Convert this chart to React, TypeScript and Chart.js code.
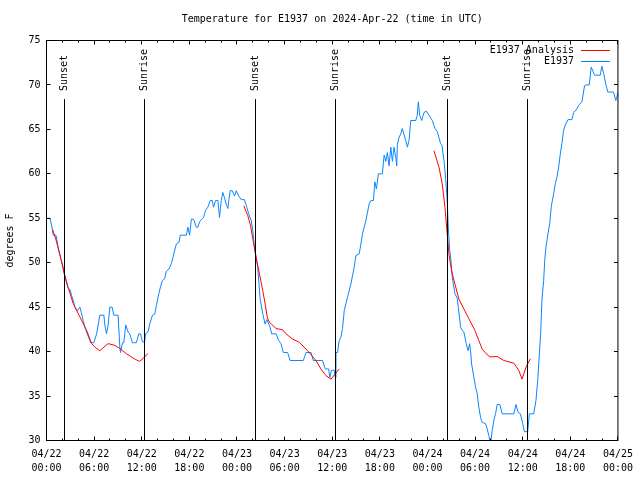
import React, { useEffect, useRef } from 'react';
import { Chart, registerables } from 'chart.js';

Chart.register(...registerables);

// hours since 2024-04-22 00:00 UTC, temperature in degrees F
const observed: [number, number][] = [
  [0, 55], [0.44, 55], [0.65, 54.2], [0.85, 53.1], [1.19, 53.1], [1.36, 52.3], [1.48, 51.6], [1.78, 50.5],
  [2.04, 49.7], [2.2, 48.9], [2.45, 48], [2.74, 47.1], [2.95, 47], [3.17, 46.3], [3.37, 45.75], [3.58, 45],
  [3.87, 44.6], [4.21, 45], [4.42, 44.3], [4.62, 43.5], [4.84, 42.75], [5.13, 42], [5.47, 41.25], [5.55, 41],
  [5.97, 41], [6.31, 42], [6.51, 43], [6.72, 44.1], [7.23, 44.1], [7.35, 43], [7.56, 42], [7.77, 43],
  [7.98, 45], [8.27, 45], [8.48, 44.1], [9.02, 44.1], [9.24, 40.5], [9.32, 39.9], [9.58, 41], [9.74, 41],
  [9.99, 43], [10.28, 42.2], [10.49, 42], [10.83, 41], [11.33, 41], [11.62, 42], [11.84, 42], [12.09, 41.1],
  [12.38, 41.1], [12.47, 42], [12.79, 42.2], [13.0, 43.1], [13.35, 44.1], [13.63, 44.2], [13.85, 45.2],
  [14.05, 46.1], [14.35, 47.25], [14.6, 48], [14.89, 48.2], [15.1, 49.05], [15.43, 49.3], [15.73, 49.9],
  [15.93, 50.6], [16.15, 51.4], [16.36, 52.1], [16.69, 52.3], [16.86, 53.1], [17.62, 53.1], [17.82, 54],
  [18.03, 53.1], [18.25, 54.9], [18.53, 54.9], [18.87, 54], [19.08, 54], [19.29, 54.6], [19.79, 55.1],
  [20.04, 55.9], [20.33, 56.25], [20.63, 57], [20.88, 57], [21.05, 56.25], [21.3, 57], [21.59, 57],
  [21.8, 55.1], [22.02, 57], [22.22, 57.9], [22.43, 57.3], [22.64, 56.6], [22.85, 56.1], [22.97, 57],
  [23.15, 58.1], [23.4, 58.1], [23.69, 57.5], [23.9, 58.1], [24.23, 57.5], [24.53, 57.1], [24.94, 57.1],
  [25.23, 56.25], [25.48, 55.5], [25.79, 54.75], [25.99, 53.6], [26.2, 51.75], [26.41, 50.6], [26.61, 49.5],
  [26.92, 45.9], [27.24, 44.3], [27.54, 43.1], [27.75, 43.6], [28.0, 43.1], [28.17, 42.75], [28.37, 42],
  [28.93, 42], [29.25, 41.25], [29.55, 40.9], [29.84, 39.9], [30.38, 39.9], [30.69, 39], [32.36, 39],
  [32.7, 39.9], [33.33, 39.9], [33.61, 39], [34.78, 39], [35.12, 38.05], [35.54, 38.05], [35.71, 37.1],
  [35.91, 37.9], [36.25, 37.9], [36.38, 37.1], [36.47, 39.9], [36.67, 39.9], [36.88, 41.25], [37.09, 41.6],
  [37.3, 42.6], [37.51, 44.6], [37.92, 46.1], [38.35, 47.6], [38.77, 49.5], [38.98, 50.8], [39.4, 51],
  [39.61, 52.1], [39.81, 53.25], [40.24, 54.75], [40.65, 56.6], [40.87, 57], [41.19, 57], [41.37, 59.1],
  [41.57, 58.3], [41.82, 60], [42.32, 60], [42.54, 62.1], [42.75, 61.4], [42.95, 62.4], [43.16, 60.9],
  [43.38, 63], [43.58, 61.4], [43.79, 63], [44.01, 61.8], [44.13, 60.9], [44.21, 63.3], [44.42, 64.1],
  [44.64, 64.5], [44.83, 65.1], [45.05, 64.4], [45.26, 63.75], [45.47, 63], [45.68, 63.75], [45.89, 66],
  [46.52, 66], [46.72, 66.6], [46.85, 68.1], [47.02, 66.6], [47.27, 66], [47.56, 66.9], [47.85, 67.05],
  [48.19, 66.6], [48.61, 66], [48.95, 65.1], [49.24, 64.75], [49.66, 63.4], [49.83, 63.2], [50.08, 61.5],
  [50.29, 59.5], [50.49, 57], [50.62, 54], [50.79, 51.5], [50.92, 50.6], [51.12, 48.4], [51.46, 46.5],
  [51.75, 46], [51.96, 44.4], [52.18, 42.75], [52.38, 42.4], [52.59, 42.2], [52.88, 40.9], [53.13, 40.1],
  [53.31, 40.9], [53.43, 40.1], [53.56, 38.6], [53.85, 37.1], [54.06, 36], [54.26, 35.3], [54.47, 33.75],
  [54.69, 32.6], [54.89, 32.05], [55.32, 31.9], [55.52, 31.3], [55.74, 30.55], [55.95, 29.5], [56.15, 31.1],
  [56.36, 32.25], [56.58, 33], [56.78, 34.05], [57.12, 34.05], [57.41, 33], [58.88, 33], [59.16, 34.05],
  [59.41, 33.2], [59.71, 33], [60.0, 31.9], [60.21, 31], [60.63, 31], [60.84, 33], [61.38, 33], [61.67, 34.5],
  [61.92, 37.1], [62.1, 39.75], [62.26, 42], [62.43, 45.9], [62.64, 48], [62.77, 50.25], [62.93, 51.75],
  [63.18, 53.25], [63.4, 54.4], [63.61, 56.4], [63.9, 57.75], [64.11, 58.9], [64.31, 59.6], [64.53, 60.75],
  [64.74, 62.25], [64.94, 63.4], [65.15, 64.9], [65.37, 65.5], [65.7, 66.1], [66.2, 66.1], [66.41, 66.9],
  [66.83, 67.3], [67.04, 67.7], [67.46, 68.1], [67.79, 69.9], [67.88, 70], [68.38, 70], [68.64, 72],
  [69.05, 71.1], [69.77, 71.1], [69.97, 72.1], [70.19, 71.3], [70.47, 70.1], [70.72, 69.2], [71.44, 69.2],
  [71.73, 68.25], [71.85, 68.6], [72, 69.2],
];

const analysisNight1: [number, number][] = [
  [0.78, 53.7], [1.19, 52.6], [1.7, 50.9], [2.2, 48.9], [2.7, 47.3], [3.37, 45.4], [4.21, 43.9], [5.05, 42.4],
  [5.68, 40.9], [6.09, 40.5], [6.72, 40.1], [7.23, 40.5], [7.77, 40.9], [8.61, 40.7], [9.24, 40.35],
  [10.08, 39.75], [10.71, 39.4], [11.25, 39.1], [11.75, 38.9], [12.25, 39.3], [12.79, 39.8],
];
const analysisNight2: [number, number][] = [
  [24.86, 56.4], [25.36, 55.3], [25.7, 54.2], [25.99, 52.7], [26.41, 50.6], [26.83, 48.75], [27.24, 46.9],
  [27.58, 45.2], [27.83, 43.8], [28.08, 43.3], [28.93, 42.6], [29.76, 42.45], [30.18, 42.0], [31.01, 41.4],
  [31.86, 41.05], [32.9, 40.1], [33.95, 39.0], [34.58, 38.05], [35.21, 37.3], [35.84, 36.9], [36.38, 37.5],
  [36.88, 38.05],
];
const analysisNight3: [number, number][] = [
  [48.82, 62.6], [49.45, 60.75], [49.86, 58.9], [50.2, 56.25], [50.49, 53.25], [50.7, 51], [51.04, 49.1],
  [51.46, 47.6], [51.96, 45.9], [52.59, 44.8], [53.22, 43.7], [53.97, 42.4], [54.47, 41.25], [54.89, 40.3],
  [55.36, 39.8], [55.86, 39.4], [56.78, 39.45], [57.62, 39.0], [58.88, 38.7], [59.5, 37.9], [59.92, 36.9],
  [60.42, 38.25], [60.97, 39.2],
];

const eventHours = [2.24, 12.4, 26.36, 36.38, 50.49, 60.55];
const eventLabels = ['Sunset', 'Sunrise', 'Sunset', 'Sunrise', 'Sunset', 'Sunrise'];

const xDateLabels = ['04/22', '04/22', '04/22', '04/22', '04/23', '04/23', '04/23', '04/23', '04/24', '04/24', '04/24', '04/24', '04/25'];
const xTimeLabels = ['00:00', '06:00', '12:00', '18:00', '00:00', '06:00', '12:00', '18:00', '00:00', '06:00', '12:00', '18:00', '00:00'];

const titleText = 'Temperature for E1937 on 2024-Apr-22 (time in UTC)';
const yTitle = 'degrees F';
const seriesNames = ['E1937 Analysis', 'E1937'];

const RED = '#ff0000';
const BLUE = '#0a86ff';
const FAMILY = '"DejaVu Sans Mono", monospace';
const FONT = `10px ${FAMILY}`;

const toPoints = (arr: [number, number][]) => arr.map(([x, y]) => ({ x, y }));

const overlay = {
  id: 'overlay',
  afterDatasetsDraw(chart: any) {
    const { ctx, chartArea: a, scales } = chart;
    const x = scales.x;
    const y = scales.y;
    ctx.save();
    ctx.strokeStyle = '#000';
    ctx.fillStyle = '#000';
    ctx.lineWidth = 1;
    ctx.font = FONT;

    // sunrise / sunset markers
    eventHours.forEach((h, i) => {
      const px = Math.floor(x.getPixelForValue(h)) + 0.5;
      ctx.beginPath();
      ctx.moveTo(px, a.top + 58.5);
      ctx.lineTo(px, a.bottom);
      ctx.stroke();
      ctx.save();
      ctx.translate(px, a.top + 50.5);
      ctx.rotate(-Math.PI / 2);
      ctx.textAlign = 'left';
      ctx.textBaseline = 'middle';
      ctx.fillText(eventLabels[i], 0, 0);
      ctx.restore();
    });

    // frame
    ctx.strokeRect(a.left, a.top, a.right - a.left, a.bottom - a.top);

    // x ticks (inward, mirrored)
    ctx.beginPath();
    for (let h = 0; h <= 72; h += 2) {
      const px = Math.floor(x.getPixelForValue(h)) + 0.5;
      const len = h % 6 === 0 ? 4 : 2;
      ctx.moveTo(px, a.bottom);
      ctx.lineTo(px, a.bottom - len);
      ctx.moveTo(px, a.top);
      ctx.lineTo(px, a.top + len);
    }
    // y ticks
    for (let v = 30; v <= 75; v += 5) {
      const py = Math.floor(y.getPixelForValue(v)) + 0.5;
      ctx.moveTo(a.left, py);
      ctx.lineTo(a.left + 4, py);
      ctx.moveTo(a.right, py);
      ctx.lineTo(a.right - 4, py);
    }
    ctx.stroke();

    // legend
    ctx.textAlign = 'right';
    ctx.textBaseline = 'middle';
    const legendColors = [RED, BLUE];
    seriesNames.forEach((name, i) => {
      const ly = 50.5 + i * 11;
      ctx.fillStyle = '#000';
      ctx.fillText(name, 574, ly);
      ctx.strokeStyle = legendColors[i];
      ctx.beginPath();
      ctx.moveTo(581, ly);
      ctx.lineTo(610, ly);
      ctx.stroke();
    });

    // title
    ctx.fillStyle = '#000';
    ctx.textAlign = 'center';
    ctx.fillText(titleText, (a.left + a.right) / 2, 19);

    // y axis title
    ctx.save();
    ctx.translate(10, (a.top + a.bottom) / 2);
    ctx.rotate(-Math.PI / 2);
    ctx.textAlign = 'center';
    ctx.textBaseline = 'middle';
    ctx.fillText(yTitle, 0, 0);
    ctx.restore();

    ctx.restore();
  },
};

export default function App() {
  const ref = useRef<HTMLCanvasElement | null>(null);
  useEffect(() => {
    if (!ref.current) return;
    const analysis = [
      ...toPoints(analysisNight1),
      { x: 18, y: null as any },
      ...toPoints(analysisNight2),
      { x: 42, y: null as any },
      ...toPoints(analysisNight3),
    ];
    const chart = new Chart(ref.current, {
      type: 'line',
      data: {
        datasets: [
          {
            label: seriesNames[0],
            data: analysis as any,
            borderColor: RED,
            backgroundColor: RED,
            borderWidth: 1,
            pointRadius: 0,
            spanGaps: false,
            tension: 0,
          },
          {
            label: seriesNames[1],
            data: toPoints(observed) as any,
            borderColor: BLUE,
            backgroundColor: BLUE,
            borderWidth: 1,
            pointRadius: 0,
            tension: 0,
          },
        ],
      },
      options: {
        animation: false,
        responsive: false,
        parsing: false as any,
        layout: { padding: { left: 0, top: 40.5, right: 20.5, bottom: 0 } },
        plugins: { legend: { display: false }, title: { display: false }, tooltip: { enabled: false } },
        scales: {
          x: {
            type: 'linear',
            min: 0,
            max: 72,
            afterFit: (s: any) => { s.height = 39.5; },
            grid: { display: false, drawTicks: false },
            border: { display: false },
            ticks: {
              stepSize: 6,
              autoSkip: false,
              maxRotation: 0,
              padding: 7,
              color: '#000',
              font: { family: FAMILY, size: 10, lineHeight: 1.4 },
              callback: (v: any) => {
                const i = Math.round(Number(v) / 6);
                return [xDateLabels[i], xTimeLabels[i]];
              },
            },
          },
          y: {
            type: 'linear',
            min: 30,
            max: 75,
            afterFit: (s: any) => { s.width = 46.5; },
            grid: { display: false, drawTicks: false },
            border: { display: false },
            ticks: {
              stepSize: 5,
              padding: 6,
              color: '#000',
              font: { family: FAMILY, size: 10 },
            },
          },
        },
      },
      plugins: [overlay],
    });
    return () => chart.destroy();
  }, []);
  return (
    <div style={{ position: 'fixed', left: 0, top: 0, width: 640, height: 480, background: '#fff' }}>
      <canvas ref={ref} width={640} height={480} style={{ display: 'block' }} />
    </div>
  );
}
